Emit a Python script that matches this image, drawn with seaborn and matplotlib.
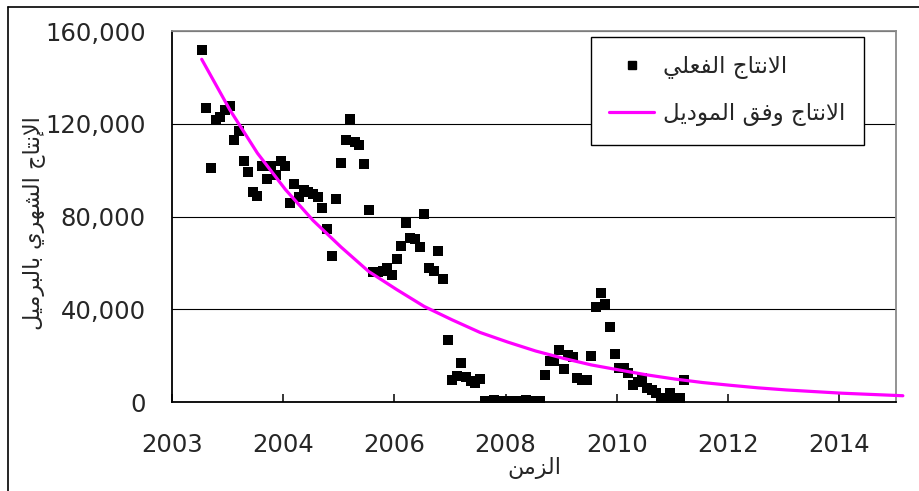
import numpy as np
import pandas as pd
import matplotlib
matplotlib.use("Agg")
import matplotlib.pyplot as plt
from matplotlib.lines import Line2D
import seaborn as sns

# ---------------- data ----------------
actual_start = "2003-07-01"          # first monthly observation
actual_values = [
    152000, 126700, 101000, 121700, 123000, 125900, 127600, 113000, 117000, 104000,
    99300, 90500, 89000, 101600, 96300, 101700, 97900, 104000, 101600, 85800,
    94000, 88300, 91600, 90500, 89800, 88500, 83500, 74500, 63100, 87400,
    103200, 113000, 122000, 112300, 110800, 102500, 82800, 56200, 56200, 56600,
    57600, 54800, 61500, 67400, 77300, 70600, 70200, 67000, 81100, 57600,
    56300, 65300, 53100, 26700, 9500, 11200, 16700, 10900, 9000, 8000,
    10000, 600, 500, 700, 500, 600, 500, 400, 600, 500,
    700, 500, 600, 500, 11600, 17800, 17800, 22400, 14100, 20300,
    19300, 10200, 9500, 9500, 19800, 41100, 47100, 42300, 32200, 20500,
    14500, 14500, 12400, 7300, 8500, 10200, 5900, 5200, 3700, 1600,
    1600, 3700, 1600, 1600, 9500,
]
model_start = "2003-07-01"           # model curve, read every 6 months
model_values = [
    147800, 126100, 107300, 91600, 78300, 66800, 56300, 48500, 41200, 35400,
    30000, 25800, 22000, 18800, 16000, 13800, 11700, 9900, 8400, 7200,
    6100, 5200, 4500, 3800, 3300, 2800,
]
model_end_date = "2016-02-20"
model_end_value = 2700

x_tick_labels = ["2003", "2004", "2006", "2008", "2010", "2012", "2014"]
y_ticks = [0, 40000, 80000, 120000, 160000]
legend_labels = ["الانتاج الفعلي", "الانتاج وفق الموديل"]
x_label = "الزمن"
y_label = "الإنتاج الشهري بالبرميل"

# ---------------- Arabic shaping (presentation forms, visual order) ----------------
_AR = {
    'ا': (0xFE8D, 0xFE8E, None, None), 'إ': (0xFE87, 0xFE88, None, None),
    'ب': (0xFE8F, 0xFE90, 0xFE91, 0xFE92), 'ت': (0xFE95, 0xFE96, 0xFE97, 0xFE98),
    'ج': (0xFE9D, 0xFE9E, 0xFE9F, 0xFEA0), 'د': (0xFEA9, 0xFEAA, None, None),
    'ر': (0xFEAD, 0xFEAE, None, None), 'ز': (0xFEAF, 0xFEB0, None, None),
    'ش': (0xFEB5, 0xFEB6, 0xFEB7, 0xFEB8), 'ع': (0xFEC9, 0xFECA, 0xFECB, 0xFECC),
    'ف': (0xFED1, 0xFED2, 0xFED3, 0xFED4), 'ق': (0xFED5, 0xFED6, 0xFED7, 0xFED8),
    'ل': (0xFEDD, 0xFEDE, 0xFEDF, 0xFEE0), 'م': (0xFEE1, 0xFEE2, 0xFEE3, 0xFEE4),
    'ن': (0xFEE5, 0xFEE6, 0xFEE7, 0xFEE8), 'ه': (0xFEE9, 0xFEEA, 0xFEEB, 0xFEEC),
    'و': (0xFEED, 0xFEEE, None, None), 'ي': (0xFEF1, 0xFEF2, 0xFEF3, 0xFEF4),
    'لا': (0xFEFB, 0xFEFC, None, None), 'لإ': (0xFEF9, 0xFEFA, None, None),
}


def shape(text):
    toks, i = [], 0
    while i < len(text):
        if text[i] == 'ل' and text[i:i + 2] in _AR:
            toks.append(text[i:i + 2]); i += 2
        else:
            toks.append(text[i]); i += 1
    out = []
    for k, t in enumerate(toks):
        if t not in _AR:
            out.append(t); continue
        iso, fin, ini, med = _AR[t]
        prev = toks[k - 1] if k > 0 else None
        nxt = toks[k + 1] if k + 1 < len(toks) else None
        jp = prev in _AR and _AR[prev][2] is not None
        jn = ini is not None and nxt in _AR
        c = med if (jp and jn) else fin if jp else ini if jn else iso
        out.append(chr(c))
    return ''.join(reversed(out))


# ---------------- frames ----------------
actual_dates = pd.date_range(actual_start, periods=len(actual_values), freq="MS") + pd.Timedelta(days=14)
df_actual = pd.DataFrame({"date": actual_dates, "value": actual_values})

model_dates = list(pd.date_range(model_start, periods=len(model_values), freq="6MS") + pd.Timedelta(days=14))
df_model = pd.DataFrame({"date": model_dates + [pd.Timestamp(model_end_date)],
                         "value": model_values + [model_end_value]})

origin = pd.Timestamp("2003-01-01")
tick_dates = [origin + pd.Timedelta(days=730 * k) for k in range(len(x_tick_labels))]

# ---------------- plot ----------------
sns.set_style("white")
plt.rcParams["font.family"] = ["DejaVu Sans"]

W, H = 920, 491
fig = plt.figure(figsize=(W / 100, H / 100), dpi=100)
L, R, T, B = 172, 896, 31, 402
ax = fig.add_axes([L / W, 1 - B / H, (R - L) / W, (B - T) / H])

sns.scatterplot(data=df_actual, x="date", y="value", marker="s", s=50, color="black",
                edgecolor="black", linewidth=0, ax=ax, zorder=3, legend=False)
sns.lineplot(data=df_model, x="date", y="value", color="#FF00FF", lw=2.3, ax=ax,
             zorder=4, clip_on=False, legend=False)

ax.set_xlim(origin, origin + pd.Timedelta(days=4753))
ax.set_ylim(0, 160000)
ax.set_xticks(tick_dates)
ax.set_xticklabels(x_tick_labels)
ax.set_yticks(y_ticks)
ax.set_yticklabels([f"{v:,}" for v in y_ticks])

ax.yaxis.grid(True, color="black", lw=0.8)
ax.xaxis.grid(False)
ax.set_axisbelow(True)

for s in ["left", "bottom"]:
    ax.spines[s].set_color("black")
    ax.spines[s].set_linewidth(1.3)
for s in ["top", "right"]:
    ax.spines[s].set_color("#8a8a8a")
    ax.spines[s].set_linewidth(1.3)

ax.tick_params(axis="x", direction="in", length=6, width=1.1, color="black",
               labelsize=17.5, pad=22, bottom=True)
ax.tick_params(axis="y", direction="in", length=0, labelsize=17.5, pad=19, left=True)

ax.set_xlabel(shape(x_label), fontsize=16)
ax.xaxis.set_label_coords(0.5, (B - 457) / (B - T))
ax.set_ylabel(shape(y_label), fontsize=16, va="center", ha="center")
ax.yaxis.set_label_coords((34 - L) / (R - L), (B - 223) / (B - T))

handles = [Line2D([], [], marker="s", ls="none", color="black", markersize=6),
           Line2D([], [], color="#FF00FF", lw=2.3)]
leg = ax.legend(handles, [shape(t) for t in legend_labels], loc="upper left",
                bbox_to_anchor=(591 / W, 1 - 37 / H), bbox_transform=fig.transFigure,
                frameon=True, fancybox=False, edgecolor="black", framealpha=1,
                fontsize=16.5, handlelength=1.95, handletextpad=0.4, labelspacing=1.0,
                borderpad=0.8, borderaxespad=0)
leg.get_frame().set_linewidth(1.0)

# outer chart border (left and top edges visible in the reference)
fig.add_artist(Line2D([8 / W, 8 / W], [0, 1 - 7 / H], transform=fig.transFigure, color="black", lw=1.2))
fig.add_artist(Line2D([8 / W, 1], [1 - 7 / H, 1 - 7 / H], transform=fig.transFigure, color="black", lw=1.2))

fig.savefig("out.png", dpi=100)
